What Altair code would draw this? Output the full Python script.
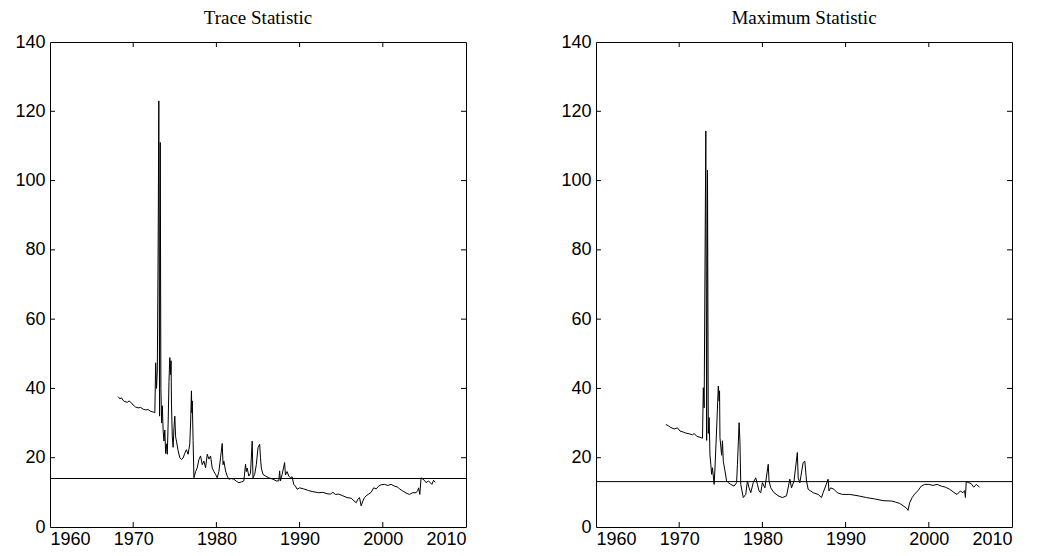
import altair as alt
import pandas as pd

# ---------------- data ----------------
TRACE_YEARS = [
    1968.2, 1968.4, 1968.6, 1968.8, 1969.0, 1969.3, 1969.5, 1969.8, 1970.0, 1970.3,
    1970.6, 1970.9, 1971.2, 1971.5, 1971.8, 1972.1, 1972.4, 1972.6, 1972.7, 1972.8,
    1972.9, 1973.0, 1973.08, 1973.17, 1973.25, 1973.33, 1973.42, 1973.5, 1973.6, 1973.7,
    1973.8, 1973.9, 1974.0, 1974.1, 1974.2, 1974.3, 1974.4, 1974.5, 1974.55, 1974.6,
    1974.7, 1974.8, 1974.9, 1975.0, 1975.1, 1975.2, 1975.4, 1975.6, 1975.8, 1976.0,
    1976.2, 1976.4, 1976.6, 1976.8, 1976.9, 1977.0, 1977.05, 1977.1, 1977.2, 1977.3,
    1977.5, 1977.7, 1977.9, 1978.1, 1978.3, 1978.5, 1978.7, 1978.9, 1979.1, 1979.3,
    1979.5, 1979.7, 1979.9, 1980.1, 1980.3, 1980.5, 1980.7, 1980.8, 1980.9, 1981.1,
    1981.3, 1981.5, 1981.8, 1982.1, 1982.4, 1982.7, 1983.0, 1983.3, 1983.5, 1983.6,
    1983.7, 1983.9, 1984.1, 1984.3, 1984.4, 1984.6, 1984.8, 1985.0, 1985.2, 1985.3,
    1985.4, 1985.6, 1985.9, 1986.3, 1986.8, 1987.2, 1987.5, 1987.6, 1987.7, 1987.9,
    1988.2, 1988.3, 1988.5, 1988.7, 1988.9, 1989.1, 1989.3, 1989.5, 1989.7, 1990.0,
    1990.5, 1991.1, 1991.6, 1992.3, 1992.8, 1993.3, 1993.7, 1994.0, 1994.3, 1994.7,
    1995.2, 1995.7, 1996.2, 1996.8, 1997.0, 1997.2, 1997.4, 1997.6, 1997.8, 1998.0,
    1998.3, 1998.6, 1998.9, 1999.2, 1999.5, 1999.8, 2000.2, 2000.6, 2001.0, 2001.4,
    2001.8, 2002.0, 2002.4, 2002.8, 2003.2, 2003.6, 2004.0, 2004.2, 2004.3, 2004.45,
    2004.6, 2004.8, 2005.0, 2005.2, 2005.5, 2005.9, 2006.1, 2006.3,
]
TRACE_VALUES = [
    37.6, 37.0, 37.3, 36.5, 36.2, 36.0, 36.4, 35.8, 35.2, 34.6,
    34.4, 34.5, 34.0, 33.8, 33.9, 33.4, 33.2, 33.0, 47.4, 40.0,
    45.0, 82.0, 123.0, 32.0, 111.0, 40.0, 30.0, 35.0, 27.7, 24.8,
    28.0, 21.2, 24.0, 21.0, 30.0, 42.0, 48.9, 44.0, 48.0, 35.5,
    26.0, 23.0, 28.7, 32.0, 26.0, 24.8, 22.0, 20.0, 19.5, 19.9,
    21.3, 22.3, 21.0, 24.0, 30.0, 39.3, 33.0, 36.4, 25.0, 14.2,
    16.0, 17.1, 19.5, 20.5, 18.0, 19.0, 17.1, 21.0, 19.6, 20.5,
    17.0, 16.0, 15.2, 14.2, 16.0, 20.0, 24.1, 18.0, 19.0, 16.2,
    14.7, 13.8, 14.0, 13.8, 13.2, 12.8, 13.0, 13.3, 18.1, 16.0,
    17.0, 14.7, 15.5, 24.8, 14.2, 15.2, 18.0, 22.9, 23.9, 20.0,
    17.0, 15.2, 14.7, 14.2, 13.8, 13.3, 13.3, 16.2, 13.3, 15.2,
    18.6, 15.0, 16.0, 14.7, 14.2, 14.5, 12.3, 11.8, 10.9, 11.3,
    11.0, 10.5, 10.2, 9.9, 10.0, 9.6, 9.5, 10.0, 9.4, 9.5,
    9.0, 8.5, 8.3, 7.0, 8.0, 8.5, 6.1, 7.5, 8.5, 9.0,
    9.5, 10.0, 11.3, 11.0, 11.8, 12.2, 12.3, 12.0, 12.3, 11.8,
    11.5, 11.0, 10.4, 9.8, 9.4, 9.9, 9.9, 10.5, 11.3, 9.4,
    14.2, 13.8, 13.5, 12.8, 13.3, 12.3, 13.5, 12.9,
]
TRACE_CRITICAL = 14.0

MAX_YEARS = [
    1968.4, 1968.7, 1969.0, 1969.4, 1969.8, 1970.1, 1970.5, 1970.8, 1971.2, 1971.6,
    1971.8, 1972.1, 1972.5, 1972.8, 1972.9, 1973.0, 1973.1, 1973.2, 1973.3, 1973.4,
    1973.5, 1973.6, 1973.7, 1973.8, 1973.9, 1974.0, 1974.2, 1974.3, 1974.5, 1974.7,
    1974.8, 1974.85, 1974.9, 1975.1, 1975.2, 1975.3, 1975.5, 1975.7, 1975.9, 1976.2,
    1976.6, 1976.9, 1977.0, 1977.2, 1977.3, 1977.4, 1977.7, 1978.0, 1978.2, 1978.4,
    1978.6, 1978.9, 1979.2, 1979.4, 1979.6, 1979.8, 1980.0, 1980.3, 1980.7, 1980.8,
    1981.0, 1981.4, 1981.9, 1982.4, 1982.9, 1983.3, 1983.5, 1983.8, 1984.2, 1984.3,
    1984.5, 1984.9, 1985.1, 1985.3, 1985.5, 1986.1, 1986.7, 1987.1, 1987.3, 1987.9,
    1988.0, 1988.2, 1988.6, 1989.0, 1989.6, 1990.5, 1991.5, 1992.5, 1993.5, 1994.5,
    1995.5, 1996.0, 1996.5, 1997.0, 1997.3, 1997.5, 1997.7, 1998.0, 1998.3, 1998.7,
    1999.1, 1999.5, 2000.0, 2000.5, 2001.0, 2001.5, 2002.0, 2002.5, 2003.0, 2003.4,
    2003.8, 2004.1, 2004.3, 2004.4, 2004.5, 2004.8, 2005.1, 2005.4, 2005.7, 2006.1,
]
MAX_VALUES = [
    29.6, 29.2, 28.7, 28.3, 28.6, 27.7, 27.4, 27.1, 26.9, 26.6,
    27.0, 26.2, 25.9, 25.6, 40.2, 34.4, 75.0, 114.3, 25.0, 103.0,
    27.0, 31.6, 20.7, 18.1, 15.2, 17.1, 12.3, 17.0, 28.3, 40.7,
    36.4, 39.3, 25.8, 20.7, 24.9, 19.0, 16.2, 13.3, 12.8, 12.3,
    11.8, 12.8, 18.1, 30.1, 24.7, 12.3, 8.5, 9.4, 13.3, 11.3,
    9.9, 12.8, 14.2, 12.3, 10.4, 9.9, 12.8, 11.3, 18.1, 13.3,
    11.3, 9.9, 9.0, 8.5, 9.0, 13.8, 11.3, 13.3, 21.5, 14.2,
    12.8, 18.6, 19.0, 13.3, 10.9, 9.9, 9.4, 8.5, 9.9, 13.8,
    10.4, 11.3, 10.9, 9.9, 9.4, 9.4, 9.0, 8.5, 8.1, 7.6,
    7.5, 7.2, 6.8, 6.0, 5.5, 4.8, 7.0, 8.5, 9.5, 10.5,
    11.8, 12.3, 12.3, 12.0, 12.3, 11.8, 11.5, 10.9, 10.0, 9.4,
    10.4, 9.9, 10.5, 8.5, 13.1, 12.8, 12.5, 11.5, 12.3, 11.5,
]
MAX_CRITICAL = 13.1

X_TICKS = [1960, 1970, 1980, 1990, 2000, 2010]
Y_TICKS = [0, 20, 40, 60, 80, 100, 120, 140]
TITLES = ["Trace Statistic", "Maximum Statistic"]

# ---------------- style ----------------
W, H = 416, 485
TICK_FONT = "Liberation Sans"
TITLE_FONT = "Liberation Serif"
TLEN_X = 0.6   # inward tick length in x data units
TLEN_Y = 1.45  # inward tick length in y data units

xs = alt.Scale(domain=[X_TICKS[0], X_TICKS[-1]], nice=False, zero=False)
ys = alt.Scale(domain=[Y_TICKS[0], Y_TICKS[-1]], nice=False, zero=False)

x_axis = alt.Axis(values=X_TICKS, format="d", ticks=False, tickSize=0, domain=False,
                  grid=False, title=None, labelFont=TICK_FONT, labelFontSize=18,
                  labelColor="black", labelPadding=3, labelOverlap=False)
y_axis = alt.Axis(values=Y_TICKS, format="d", ticks=False, tickSize=0, domain=False,
                  grid=False, title=None, labelFont=TICK_FONT, labelFontSize=18,
                  labelColor="black", labelPadding=5, labelOverlap=False)


def panel(title, years, values, crit):
    df = pd.DataFrame({"year": years, "value": values})
    line = alt.Chart(df).mark_line(color="black", strokeWidth=1).encode(
        x=alt.X("year:Q", scale=xs, axis=x_axis),
        y=alt.Y("value:Q", scale=ys, axis=y_axis),
    )
    crit_line = alt.Chart(pd.DataFrame({"c": [crit]})).mark_rule(
        color="black", strokeWidth=1).encode(
        y=alt.Y("c:Q", scale=ys, axis=y_axis),
    )
    xt = pd.DataFrame({"t": X_TICKS[1:-1]})
    yt = pd.DataFrame({"t": Y_TICKS[1:-1]})
    tick_bottom = alt.Chart(xt).mark_rule(color="black", strokeWidth=1).encode(
        x=alt.X("t:Q", scale=xs, axis=x_axis),
        y=alt.YDatum(Y_TICKS[0], scale=ys, axis=y_axis),
        y2=alt.datum(Y_TICKS[0] + TLEN_Y),
    )
    tick_top = alt.Chart(xt).mark_rule(color="black", strokeWidth=1).encode(
        x=alt.X("t:Q", scale=xs, axis=x_axis),
        y=alt.YDatum(Y_TICKS[-1], scale=ys, axis=y_axis),
        y2=alt.datum(Y_TICKS[-1] - TLEN_Y),
    )
    tick_left = alt.Chart(yt).mark_rule(color="black", strokeWidth=1).encode(
        y=alt.Y("t:Q", scale=ys, axis=y_axis),
        x=alt.XDatum(X_TICKS[0], scale=xs, axis=x_axis),
        x2=alt.datum(X_TICKS[0] + TLEN_X),
    )
    tick_right = alt.Chart(yt).mark_rule(color="black", strokeWidth=1).encode(
        y=alt.Y("t:Q", scale=ys, axis=y_axis),
        x=alt.XDatum(X_TICKS[-1], scale=xs, axis=x_axis),
        x2=alt.datum(X_TICKS[-1] - TLEN_X),
    )
    return alt.layer(line, crit_line, tick_bottom, tick_top, tick_left, tick_right).properties(
        width=W, height=H,
        title=alt.TitleParams(title, font=TITLE_FONT, fontSize=19, fontWeight="normal",
                              color="black", anchor="middle", offset=5),
    )


left = panel(TITLES[0], TRACE_YEARS, TRACE_VALUES, TRACE_CRITICAL)
right = panel(TITLES[1], MAX_YEARS, MAX_VALUES, MAX_CRITICAL)

chart = alt.hconcat(left, right, spacing=130, bounds="flush").properties(
    padding={"left": 6, "top": 0, "right": 0, "bottom": 0},
    background="white",
).configure_view(stroke="black", strokeWidth=1)

chart.save("out.html", embed_options={"renderer": "svg", "actions": False})
